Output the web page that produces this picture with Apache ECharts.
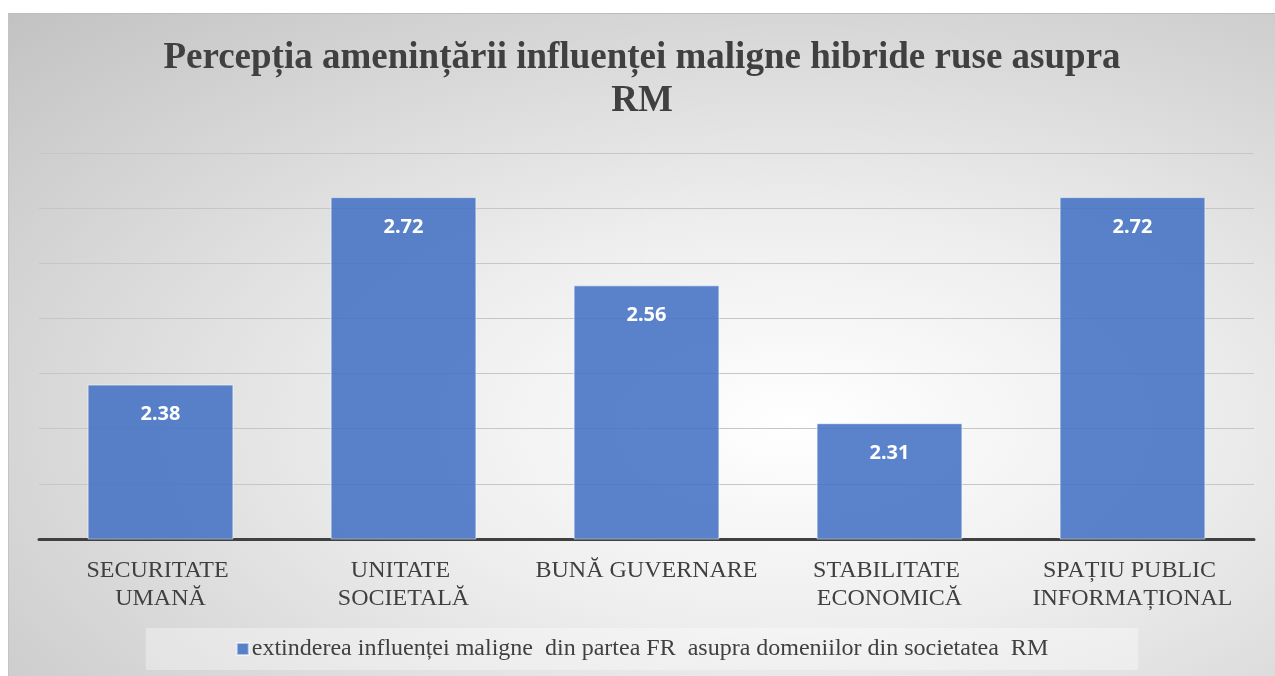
<!DOCTYPE html>
<html>
<head>
<meta charset="utf-8">
<script src="https://cdn.jsdelivr.net/npm/echarts@6/dist/echarts.min.js"></script>
<style>
  html, body { margin: 0; padding: 0; background: #fff; }
  #wrap {
    position: absolute; left: 8px; top: 13px; width: 1267px; height: 663px;
    border-top: 1px solid #bdbdbd; border-left: 1px solid #c4c4c4;
    box-sizing: border-box;
    background: radial-gradient(ellipse at 62% 62%, #ffffff 0%, #eeeeee 35%, #c2c2c2 100%);
  }
  #chart { width: 100%; height: 100%; }
</style>
</head>
<body>
<div id="wrap"><div id="chart"></div></div>
<script>
// date
const categories = ['SECURITATE UMANĂ', 'UNITATE SOCIETALĂ', 'BUNĂ GUVERNARE', 'STABILITATE ECONOMICĂ', 'SPAȚIU PUBLIC INFORMAȚIONAL'];
const values = [2.38, 2.72, 2.56, 2.31, 2.72];
const seriesName = 'extinderea influenței maligne  din partea FR  asupra domeniilor din societatea  RM';
const titleText = 'Percepția amenințării influenței maligne hibride ruse asupra\nRM';

let myChart = echarts.init(document.getElementById('chart'));
let option = {
  backgroundColor: 'transparent',
  title: {
    text: titleText,
    left: 'center',
    top: 18,
    textStyle: {
      fontFamily: 'Liberation Serif',
      fontSize: 37,
      fontWeight: 'bold',
      color: '#404040',
      lineHeight: 43
    }
  },
  legend: {
    left: 'center',
    bottom: 6,
    padding: [9, 90],
    backgroundColor: 'rgba(255,255,255,0.35)',
    itemWidth: 12,
    itemHeight: 12,
    itemGap: 6,
    icon: 'rect',
    textStyle: {
      fontFamily: 'Liberation Serif',
      fontSize: 24,
      color: '#404040',
      padding: [0, 0, 0, -2]
    },
    data: [seriesName]
  },
  grid: {
    left: 30,
    right: 21,
    top: 139,
    bottom: 137,
    containLabel: false
  },
  xAxis: {
    type: 'category',
    data: categories,
    axisTick: { show: false },
    axisLine: { show: true, lineStyle: { color: '#404040', width: 3 } },
    axisLabel: {
      margin: 18,
      interval: 0,
      fontFamily: 'Liberation Serif',
      fontSize: 24,
      lineHeight: 28,
      color: '#404040',
      width: 232,
      overflow: 'break'
    }
  },
  yAxis: {
    type: 'value',
    min: 2.1,
    max: 2.8,
    interval: 0.1,
    axisLabel: { show: false },
    axisLine: { show: false },
    axisTick: { show: false },
    splitLine: { show: true, lineStyle: { color: '#c6c6c6', width: 1 } }
  },
  series: [
    {
      name: seriesName,
      type: 'bar',
      barWidth: '60%',
      data: values,
      itemStyle: {
        color: 'rgba(68,114,196,0.88)',
        borderColor: 'rgba(255,255,255,0.55)',
        borderWidth: 1
      },
      label: {
        show: true,
        position: 'insideTop',
        distance: 20,
        fontFamily: 'Noto Sans',
        fontWeight: 'bold',
        fontSize: 20,
        color: '#ffffff',
        formatter: p => p.value.toFixed(2)
      }
    }
  ]
};
myChart.setOption(option);
</script>
</body>
</html>
